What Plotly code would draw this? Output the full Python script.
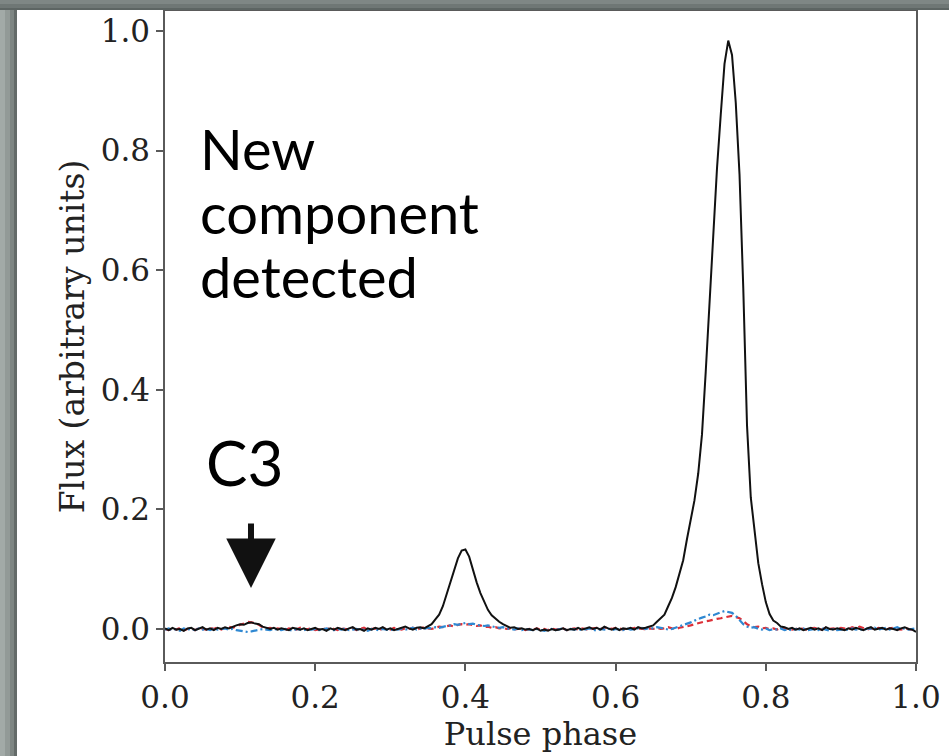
import plotly.graph_objects as go

# ---------------- data ----------------
phase = [
    0.000, 0.005, 0.010, 0.015, 0.020, 0.025, 0.030, 0.035, 0.040, 0.045,
    0.050, 0.055, 0.060, 0.065, 0.070, 0.075, 0.080, 0.085, 0.090, 0.095,
    0.100, 0.105, 0.110, 0.115, 0.120, 0.125, 0.130, 0.135, 0.140, 0.145,
    0.150, 0.155, 0.160, 0.165, 0.170, 0.175, 0.180, 0.185, 0.190, 0.195,
    0.200, 0.205, 0.210, 0.215, 0.220, 0.225, 0.230, 0.235, 0.240, 0.245,
    0.250, 0.255, 0.260, 0.265, 0.270, 0.275, 0.280, 0.285, 0.290, 0.295,
    0.300, 0.305, 0.310, 0.315, 0.320, 0.325, 0.330, 0.335, 0.340, 0.345,
    0.350, 0.355, 0.360, 0.365, 0.370, 0.375, 0.380, 0.385, 0.390, 0.395,
    0.400, 0.405, 0.410, 0.415, 0.420, 0.425, 0.430, 0.435, 0.440, 0.445,
    0.450, 0.455, 0.460, 0.465, 0.470, 0.475, 0.480, 0.485, 0.490, 0.495,
    0.500, 0.505, 0.510, 0.515, 0.520, 0.525, 0.530, 0.535, 0.540, 0.545,
    0.550, 0.555, 0.560, 0.565, 0.570, 0.575, 0.580, 0.585, 0.590, 0.595,
    0.600, 0.605, 0.610, 0.615, 0.620, 0.625, 0.630, 0.635, 0.640, 0.645,
    0.650, 0.655, 0.660, 0.665, 0.670, 0.675, 0.680, 0.685, 0.690, 0.695,
    0.700, 0.705, 0.710, 0.715, 0.720, 0.725, 0.730, 0.735, 0.740, 0.745,
    0.750, 0.755, 0.760, 0.765, 0.770, 0.775, 0.780, 0.785, 0.790, 0.795,
    0.800, 0.805, 0.810, 0.815, 0.820, 0.825, 0.830, 0.835, 0.840, 0.845,
    0.850, 0.855, 0.860, 0.865, 0.870, 0.875, 0.880, 0.885, 0.890, 0.895,
    0.900, 0.905, 0.910, 0.915, 0.920, 0.925, 0.930, 0.935, 0.940, 0.945,
    0.950, 0.955, 0.960, 0.965, 0.970, 0.975, 0.980, 0.985, 0.990, 0.995,
    1.000,
]

flux_total = [
    0.001, -0.002, 0.002, -0.001, 0.000, -0.003, 0.001, 0.002, -0.002, 0.000,
    0.003, -0.001, 0.001, -0.002, 0.002, 0.000, 0.003, 0.001, 0.004, 0.006,
    0.008, 0.007, 0.010, 0.011, 0.009, 0.008, 0.004, 0.002, 0.000, 0.002,
    -0.001, 0.001, 0.000, -0.002, 0.002, 0.000, -0.001, 0.001, -0.002, 0.000,
    0.002, -0.001, 0.000, -0.003, 0.001, -0.001, 0.002, 0.000, -0.002, 0.001,
    0.003, -0.001, 0.000, -0.003, 0.001, -0.001, 0.002, 0.000, 0.003, -0.001,
    0.001, -0.002, 0.000, 0.002, 0.004, 0.001, -0.001, 0.002, 0.003, 0.001,
    0.005, 0.008, 0.016, 0.024, 0.038, 0.058, 0.075, 0.098, 0.118, 0.131,
    0.133, 0.121, 0.099, 0.078, 0.060, 0.045, 0.032, 0.023, 0.017, 0.012,
    0.008, 0.005, 0.002, 0.003, 0.000, 0.001, -0.001, 0.000, -0.002, 0.001,
    -0.003, -0.001, -0.003, 0.000, -0.002, -0.001, 0.001, -0.002, 0.000, -0.001,
    0.002, -0.001, 0.001, 0.003, 0.000, 0.002, -0.001, 0.004, 0.001, -0.001,
    0.002, -0.002, 0.001, 0.000, 0.002, -0.001, 0.003, 0.001, 0.002, 0.004,
    0.006, 0.012, 0.018, 0.024, 0.038, 0.052, 0.070, 0.092, 0.115, 0.150,
    0.180, 0.215, 0.260, 0.325, 0.430, 0.545, 0.660, 0.770, 0.860, 0.945,
    0.984, 0.960, 0.880, 0.760, 0.570, 0.340, 0.220, 0.160, 0.110, 0.075,
    0.045, 0.025, 0.014, 0.010, 0.004, 0.003, 0.000, 0.002, -0.001, 0.001,
    -0.002, 0.000, 0.002, -0.001, 0.001, -0.002, 0.003, 0.000, -0.001, 0.001,
    0.000, -0.002, 0.001, -0.001, 0.002, 0.000, -0.002, 0.001, 0.003, -0.001,
    0.000, 0.002, -0.001, 0.001, 0.000, -0.002, 0.001, 0.003, 0.000, -0.001,
    -0.005,
]

flux_red = [
    0.000, -0.002, 0.001, -0.001, 0.002, -0.002, 0.000, 0.001, -0.002, 0.002,
    0.000, -0.001, 0.002, 0.000, 0.003, -0.001, 0.002, 0.004, 0.002, 0.005,
    0.007, 0.009, 0.012, 0.011, 0.010, 0.007, 0.003, 0.001, 0.002, -0.001,
    0.001, 0.000, -0.002, 0.001, 0.000, -0.001, 0.002, -0.001, 0.000, 0.001,
    -0.002, 0.000, 0.001, -0.001, 0.002, 0.000, -0.002, 0.001, 0.000, -0.001,
    0.001, -0.002, 0.000, 0.002, -0.001, 0.000, 0.001, -0.002, 0.001, 0.000,
    -0.001, 0.002, 0.000, -0.001, 0.001, 0.000, 0.002, -0.001, 0.001, 0.003,
    0.001, 0.000, 0.002, 0.004, 0.003, 0.005, 0.006, 0.004, 0.007, 0.008,
    0.007, 0.008, 0.006, 0.005, 0.006, 0.003, 0.004, 0.002, 0.003, 0.001,
    0.002, 0.000, 0.001, -0.001, 0.000, 0.001, -0.002, 0.000, -0.001, 0.001,
    -0.001, 0.000, -0.002, 0.001, -0.001, 0.000, 0.001, -0.002, 0.000, 0.001,
    -0.001, 0.001, 0.000, -0.002, 0.001, 0.002, 0.000, 0.001, 0.003, 0.000,
    0.002, 0.001, -0.001, 0.001, 0.000, 0.002, 0.000, 0.001, -0.001, 0.001,
    0.000, 0.002, 0.000, 0.001, 0.003, 0.001, 0.000, 0.002, 0.003, 0.005,
    0.006, 0.008, 0.010, 0.011, 0.013, 0.014, 0.016, 0.017, 0.018, 0.019,
    0.021, 0.022, 0.020, 0.018, 0.013, 0.008, 0.005, 0.003, 0.004, 0.001,
    0.002, 0.000, 0.001, -0.001, 0.002, 0.000, 0.001, -0.001, 0.000, 0.002,
    0.000, -0.001, 0.001, 0.002, 0.000, -0.001, 0.002, 0.000, 0.001, -0.001,
    0.002, 0.001, 0.000, 0.003, 0.001, 0.004, 0.002, -0.001, 0.001, 0.000,
    0.002, 0.000, -0.001, 0.001, 0.002, 0.000, -0.001, 0.001, 0.000, -0.001,
    -0.002,
]

flux_blue = [
    -0.001, 0.001, -0.002, 0.000, -0.003, 0.001, -0.001, 0.000, -0.002, 0.001,
    -0.001, 0.000, -0.002, 0.001, -0.001, 0.000, 0.001, -0.001, 0.000, -0.002,
    -0.003, -0.004, -0.005, -0.004, -0.003, -0.002, 0.000, -0.001, -0.002, 0.000,
    -0.001, -0.002, 0.000, -0.001, -0.003, 0.000, -0.001, -0.002, 0.000, -0.001,
    0.000, -0.002, -0.001, 0.001, -0.001, -0.002, 0.000, -0.001, 0.001, -0.002,
    -0.001, 0.000, -0.002, -0.001, -0.003, 0.000, -0.001, -0.002, 0.000, -0.001,
    -0.002, 0.000, -0.001, 0.001, -0.001, 0.000, 0.002, -0.001, 0.001, 0.000,
    0.002, 0.001, 0.003, 0.002, 0.004, 0.005, 0.006, 0.008, 0.007, 0.009,
    0.010, 0.008, 0.009, 0.007, 0.006, 0.005, 0.006, 0.004, 0.003, 0.002,
    0.003, 0.001, 0.000, -0.001, 0.001, -0.002, 0.000, -0.001, -0.002, 0.000,
    -0.001, -0.003, -0.001, 0.000, -0.002, -0.001, 0.001, -0.002, 0.000, -0.001,
    0.000, -0.002, -0.001, 0.001, -0.001, -0.003, 0.000, -0.001, 0.001, -0.002,
    0.000, -0.001, -0.002, 0.001, -0.001, 0.000, 0.001, 0.002, 0.000, 0.002,
    0.001, 0.003, 0.002, 0.001, -0.001, 0.000, 0.002, 0.004, 0.006, 0.009,
    0.011, 0.014, 0.017, 0.019, 0.021, 0.024, 0.023, 0.026, 0.028, 0.030,
    0.029, 0.027, 0.022, 0.014, 0.008, 0.004, 0.002, 0.003, 0.000, -0.001,
    0.001, -0.002, 0.000, -0.001, 0.001, -0.002, 0.000, -0.003, 0.000, -0.001,
    0.001, -0.002, -0.001, 0.000, -0.002, 0.001, -0.001, -0.003, 0.000, -0.002,
    -0.001, 0.000, -0.002, 0.001, -0.001, 0.000, -0.002, 0.001, 0.000, 0.002,
    -0.001, 0.000, 0.002, -0.001, 0.001, 0.003, 0.000, 0.001, -0.001, 0.000,
    0.001,
]

x_ticks = [0.0, 0.2, 0.4, 0.6, 0.8, 1.0]
y_ticks = [0.0, 0.2, 0.4, 0.6, 0.8, 1.0]

# ---------------- figure ----------------
W, H = 949, 756
L, R, T, B = 165, 33, 11, 94   # plot area: x 165..916, y 11..662

fig = go.Figure()
fig.add_trace(go.Scatter(x=phase, y=flux_red, mode="lines",
                         line=dict(color="#dc3038", width=2.2, dash="6px,4px"),
                         showlegend=False))
fig.add_trace(go.Scatter(x=phase, y=flux_blue, mode="lines",
                         line=dict(color="#2f88d2", width=2.2, dash="7px,3px,2px,3px"),
                         showlegend=False))
fig.add_trace(go.Scatter(x=phase, y=flux_total, mode="lines",
                         line=dict(color="#111111", width=2),
                         showlegend=False))

serif = "DejaVu Serif"
axis_common = dict(
    showline=True, mirror=True, linecolor="#5a5a5a", linewidth=1.5,
    ticks="outside", ticklen=7, tickwidth=1.5, tickcolor="#5a5a5a",
    showgrid=False, zeroline=False, automargin=False,
    tickfont=dict(family=serif, size=31, color="#222222"),
)
fig.update_xaxes(range=[0, 1], tickvals=x_ticks, tickformat=".1f",
                 title=dict(text="Pulse phase", standoff=0,
                            font=dict(family=serif, size=32, color="#222222")),
                 **axis_common)
fig.update_yaxes(range=[-0.0552, 1.0334], tickvals=y_ticks, tickformat=".1f",
                 title=dict(text="Flux (arbitrary units)", standoff=6,
                            font=dict(family=serif, size=33, color="#222222")),
                 **axis_common)

# grey slide frame (top and left bands)
pw, ph = W - L - R, H - T - B
def px(xp):
    return (xp - L) / pw
def py(yp):
    return (H - B - yp) / ph

shapes = []
left_strips = [(0, 5, "#a2aaa7"), (5, 10, "#929a97"), (10, 14, "#7e8683"), (14, 17, "#646b69")]
for a, b, c in left_strips:
    shapes.append(dict(type="rect", xref="paper", yref="paper",
                       x0=px(a), x1=px(b), y0=py(H), y1=py(0),
                       fillcolor=c, line=dict(width=0), layer="above"))
top_strips = [(0, 4, "#7f8785"), (4, 8, "#6f7775"), (8, 10, "#5d6563")]
for a, b, c in top_strips:
    shapes.append(dict(type="rect", xref="paper", yref="paper",
                       x0=px(0), x1=px(W), y0=py(b), y1=py(a),
                       fillcolor=c, line=dict(width=0), layer="above"))

sans = "Lato"
annotations = [
    dict(x=0.044, y=0.804, xref="x", yref="y", text="New", showarrow=False,
         xanchor="left", yanchor="middle", font=dict(family=sans, size=56, color="#000000")),
    dict(x=0.044, y=0.697, xref="x", yref="y", text="component", showarrow=False,
         xanchor="left", yanchor="middle", font=dict(family=sans, size=56, color="#000000")),
    dict(x=0.044, y=0.589, xref="x", yref="y", text="detected", showarrow=False,
         xanchor="left", yanchor="middle", font=dict(family=sans, size=56, color="#000000")),
    dict(x=0.1065, y=0.279, xref="x", yref="y", text="C3", showarrow=False,
         xanchor="center", yanchor="middle", font=dict(family=sans, size=62, color="#000000")),
    dict(x=0.1145, y=0.0686, xref="x", yref="y", text="", showarrow=True,
         ax=0, ay=-66, axref="pixel", ayref="pixel",
         arrowhead=2, arrowwidth=6, arrowsize=1.65, arrowcolor="#111111"),
]

fig.update_layout(
    width=W, height=H,
    margin=dict(l=L, r=R, t=T, b=B),
    paper_bgcolor="#ffffff", plot_bgcolor="#ffffff",
    shapes=shapes, annotations=annotations,
    showlegend=False,
)

fig.write_html("out.html", config={"displayModeBar": False},
               post_script="document.body.style.margin='0';document.body.style.padding='0';")
